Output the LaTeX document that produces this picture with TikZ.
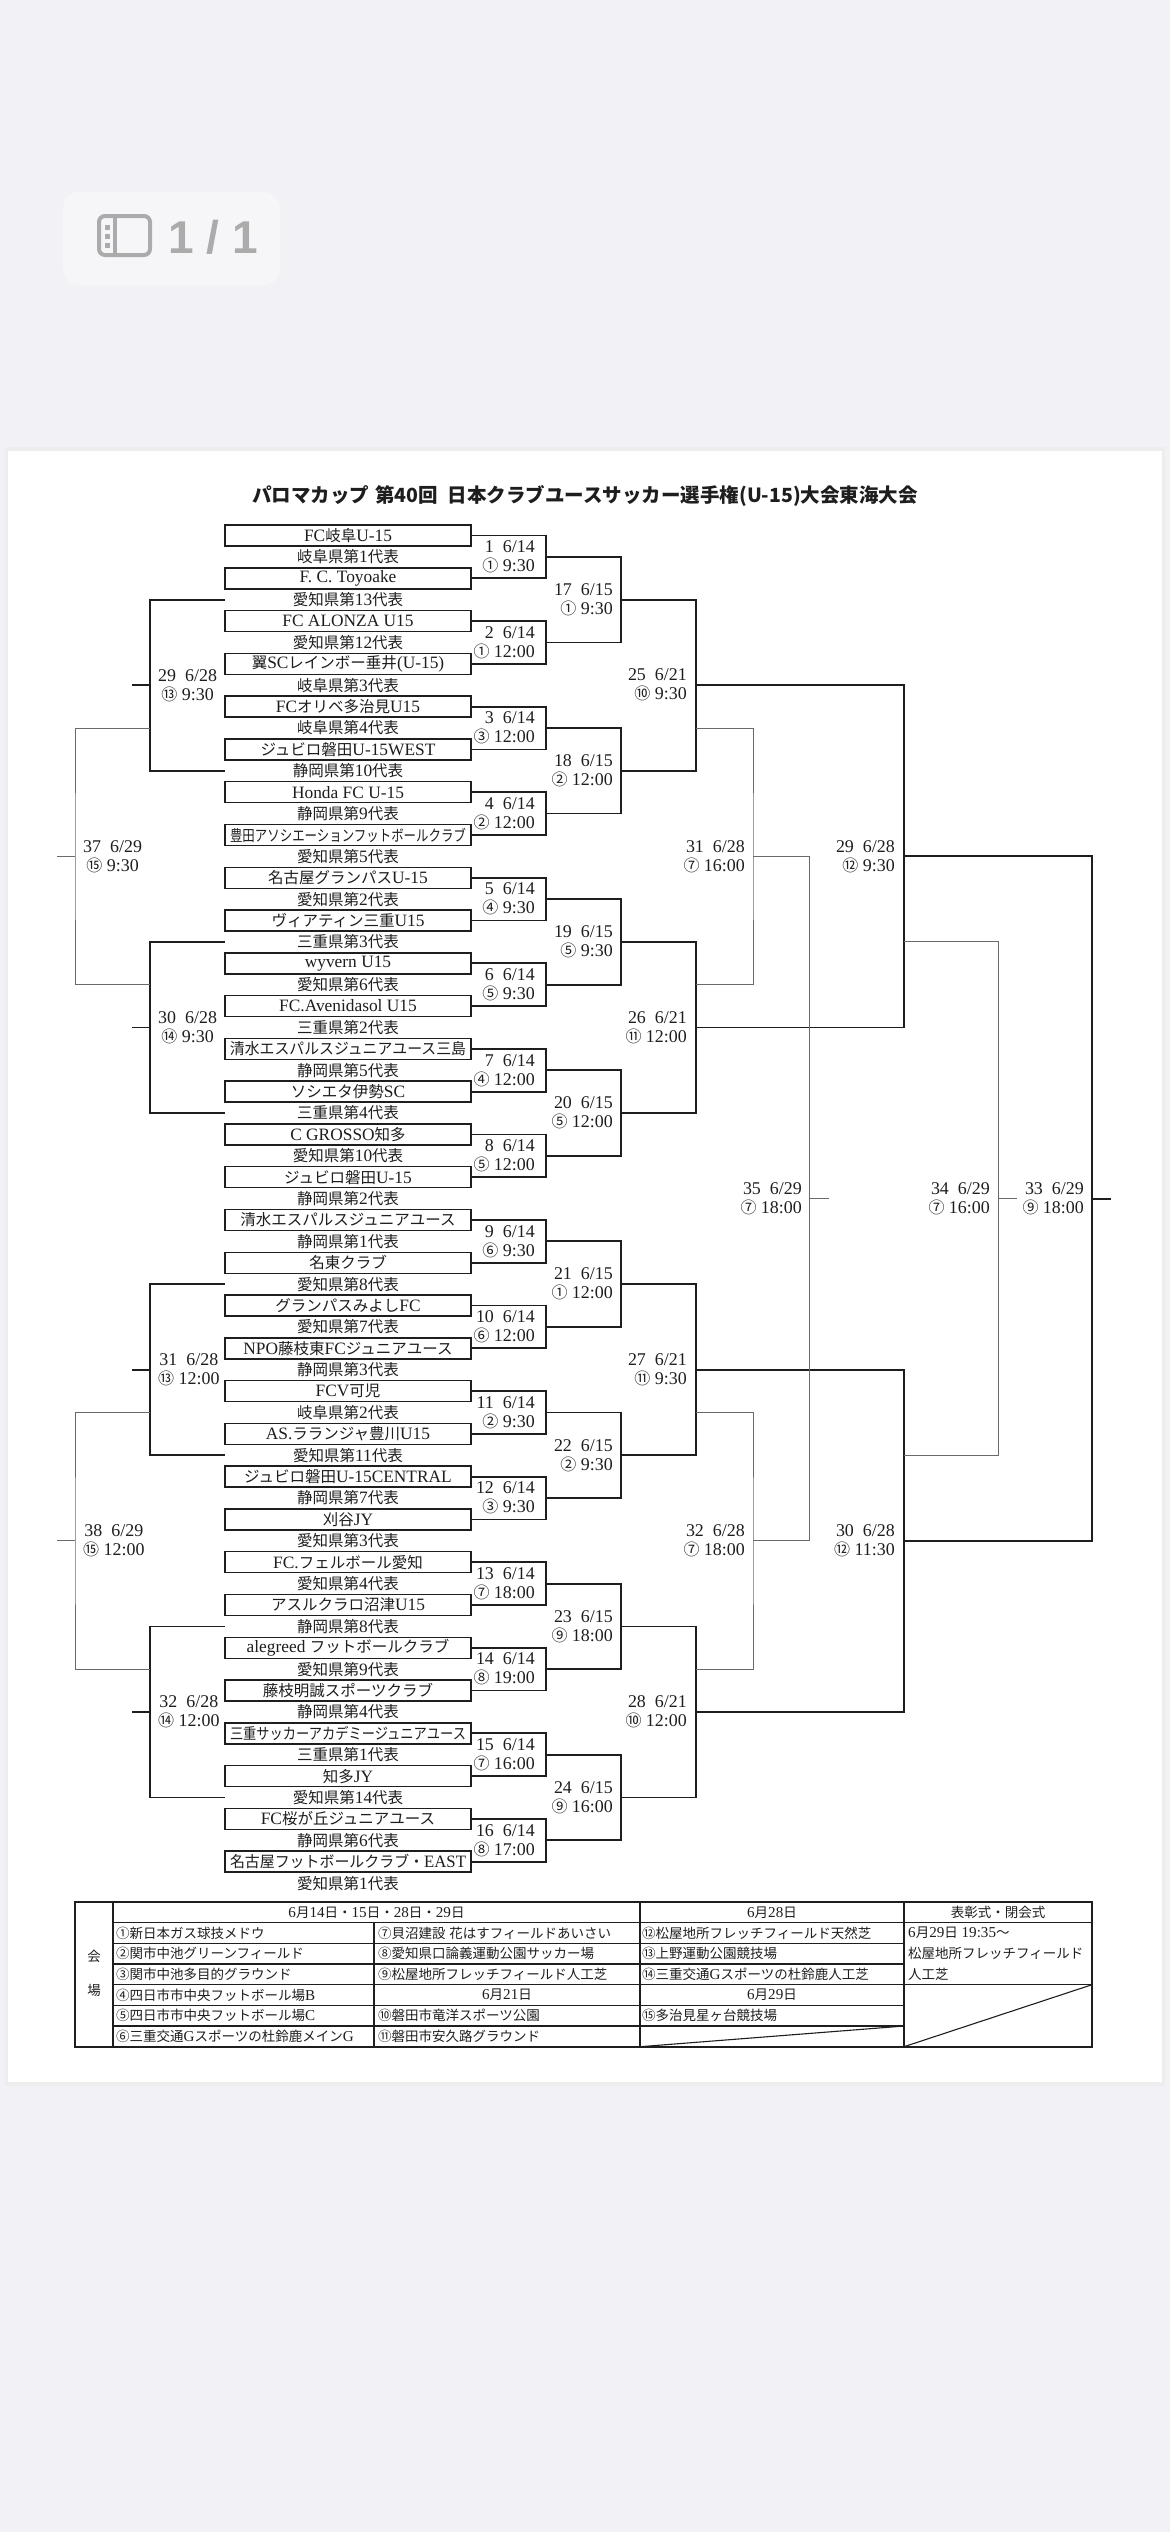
\documentclass[tikz,border=0pt]{standalone}
\usepackage{fontspec}
\usepackage{graphicx}
\setmainfont{Liberation Serif}[Scale=1.12]
\newfontfamily\latinfont{Liberation Serif}[Scale=1.12]
\newfontfamily\jafont{Noto Sans CJK JP}
\newfontfamily\uifont{Liberation Sans}

\definecolor{ink}{HTML}{1E1E1E}
\definecolor{thin}{HTML}{6A6A6A}
\definecolor{screen}{HTML}{F1F1F6}
\definecolor{pill}{HTML}{F6F6F9}
\definecolor{uigray}{HTML}{ABABAB}

\newcommand\teamfont{\fontsize{15.5}{18}\selectfont}
\newcommand\matchfont{\fontsize{16}{19}\selectfont}
\newcommand\tablefont{\fontsize{13.5}{16}\selectfont}
\newcommand\fitname[1]{\sbox0{#1}\ifdim\wd0>236pt\resizebox{236pt}{\height}{\usebox0}\else\usebox0\fi}

% Japanese runs in Noto Sans CJK, Latin runs in Liberation Serif
\newXeTeXintercharclass\jaclass
\newcount\jacnt
\newcommand\jarange[2]{\jacnt=#1\relax
  \loop\XeTeXcharclass\jacnt=\jaclass\relax
  \ifnum\jacnt<#2\relax\advance\jacnt by 1\relax\repeat}
\jarange{"2460}{"24FF}
\jarange{"3000}{"30FF}
\jarange{"4E00}{"9FFF}
\jarange{"FF00}{"FFEF}
\XeTeXinterchartoks 0 \jaclass = {\jafont}
\XeTeXinterchartoks 4095 \jaclass = {\jafont}
\XeTeXinterchartoks \jaclass 0 = {\latinfont}
\XeTeXinterchartoks \jaclass 4095 = {\latinfont}
\XeTeXinterchartoks 4095 0 = {\latinfont}
\XeTeXinterchartokenstate=1

\begin{document}
\begin{tikzpicture}[x=1pt, y=-1pt,
  team/.style={draw=ink, line width=1.5pt, minimum width=246pt, minimum height=21pt, inner sep=0pt, font=\teamfont, text=ink},
  rep/.style={minimum width=246pt, minimum height=21pt, inner sep=0pt, font=\teamfont, text=ink},
  win/.style={draw=ink, line width=1.8pt},
  lose/.style={draw=thin, line width=1pt},
  mlabel/.style={anchor=east, align=right, inner sep=0pt, font=\matchfont, text=ink},
  llabel/.style={anchor=west, align=center, inner sep=0pt, font=\matchfont, text=ink},
  cell/.style={anchor=west, inner sep=0pt, font=\tablefont, text=ink},
  head/.style={inner sep=0pt, font=\tablefont, text=ink}]
	\fill[screen] (0,0) rectangle (1170,2532);
	% page counter
	\fill[pill, rounded corners=16pt] (63,192) rectangle (280,285);
	\draw[uigray, line width=4pt, rounded corners=6pt] (99,216) rectangle (150,255);
	\draw[uigray, line width=4pt] (115,216) -- (115,255);
	\foreach \d in {227,236,245}
		\fill[uigray] (104.5,\d-2.5) rectangle (109.5,\d+2.5);
	\node[anchor=base west, inner sep=0pt, text=uigray, font={\XeTeXinterchartokenstate=0 \uifont\bfseries\fontsize{46}{48}\selectfont}] (pageno) at (168,253) {1 / 1};
	% sheet
	\fill[black!7] (5,447) rectangle (1165,2086);
	\fill[white] (8,451) rectangle (1162,2082);
	\node[inner sep=0pt, text=ink, font={\XeTeXinterchartokenstate=0 \jafont\bfseries\fontsize{19.5}{22}\selectfont}] (title) at (585,496) {パロマカップ\hspace{6pt}第40回\hspace{10pt}日本クラブユースサッカー選手権(U-15)大会東海大会};

	\begin{scope}[shift={(0,535.5)}, y=-21.39pt]
	\foreach \name [count=\k from 0] in {FC岐阜U-15, F. C. Toyoake, FC ALONZA U15, 翼SCレインボー垂井(U-15), FCオリベ多治見U15, ジュビロ磐田U-15WEST, Honda FC U-15, 豊田アソシエーションフットボールクラブ, 名古屋グランパスU-15, ヴィアティン三重U15, wyvern U15, FC.Avenidasol U15, 清水エスパルスジュニアユース三島, ソシエタ伊勢SC, C GROSSO知多, ジュビロ磐田U-15, 清水エスパルスジュニアユース, 名東クラブ, グランパスみよしFC, NPO藤枝東FCジュニアユース, FCV可児, AS.ラランジャ豊川U15, ジュビロ磐田U-15CENTRAL, 刈谷JY, FC.フェルボール愛知, アスルクラロ沼津U15, alegreed フットボールクラブ, 藤枝明誠スポーツクラブ, 三重サッカーアカデミージュニアユース, 知多JY, FC桜が丘ジュニアユース, 名古屋フットボールクラブ・EAST}
		\node[team] (team\k) at (348,2*\k) {\fitname{\name}};
	\foreach \name [count=\k from 0] in {岐阜県第1代表, 愛知県第13代表, 愛知県第12代表, 岐阜県第3代表, 岐阜県第4代表, 静岡県第10代表, 静岡県第9代表, 愛知県第5代表, 愛知県第2代表, 三重県第3代表, 愛知県第6代表, 三重県第2代表, 静岡県第5代表, 三重県第4代表, 愛知県第10代表, 静岡県第2代表, 静岡県第1代表, 愛知県第8代表, 愛知県第7代表, 静岡県第3代表, 岐阜県第2代表, 愛知県第11代表, 静岡県第7代表, 愛知県第3代表, 愛知県第4代表, 静岡県第8代表, 愛知県第9代表, 静岡県第4代表, 三重県第1代表, 愛知県第14代表, 静岡県第6代表, 愛知県第1代表}
		\node[rep] (rep\k) at (348,2*\k+1) {\name};

	% 6/14
	\foreach \v [count=\i] in {① 9:30, ① 12:00, ③ 12:00, ② 12:00, ④ 9:30, ⑤ 9:30, ④ 12:00, ⑤ 12:00, ⑥ 9:30, ⑥ 12:00, ② 9:30, ③ 9:30, ⑦ 18:00, ⑧ 19:00, ⑦ 16:00, ⑧ 17:00}{
		\pgfmathtruncatemacro\a{2*\i-2}
		\pgfmathtruncatemacro\b{2*\i-1}
		\coordinate (ra\i) at (546,4*\i-3);
		\draw[win] (team\a.east) -| (ra\i) |- (team\b.east);
		\node[mlabel] at ([xshift=-11pt]ra\i) {\i\hspace{9pt}6/14\\\v};
	}
	% 6/15
	\foreach \v [count=\j] in {① 9:30, ② 12:00, ⑤ 9:30, ⑤ 12:00, ① 12:00, ② 9:30, ⑨ 18:00, ⑨ 16:00}{
		\pgfmathtruncatemacro\a{2*\j-1}
		\pgfmathtruncatemacro\b{2*\j}
		\pgfmathtruncatemacro\n{16+\j}
		\coordinate (rb\j) at (621,8*\j-5);
		\draw[win] (ra\a) -| (rb\j) |- (ra\b);
		\node[mlabel] at ([xshift=-8pt]rb\j) {\n\hspace{9pt}6/15\\\v};
	}
	% 6/21
	\foreach \v [count=\q] in {⑩ 9:30, ⑪ 12:00, ⑪ 9:30, ⑩ 12:00}{
		\pgfmathtruncatemacro\a{2*\q-1}
		\pgfmathtruncatemacro\b{2*\q}
		\pgfmathtruncatemacro\n{24+\q}
		\pgfmathtruncatemacro\d{16*\q-7-4*mod(\q+1,2)}
		\coordinate (rc\q) at (696,16*\q-9);
		\coordinate (rcx\q) at (696,\d);
		\draw[win] (rb\a) -| (rc\q) |- (rb\b);
		\node[mlabel] at ([xshift=-9pt]rc\q) {\n\hspace{9pt}6/21\\\v};
	}
	% 6/28
	\foreach \v [count=\h] in {⑫ 9:30, ⑫ 11:30}{
		\pgfmathtruncatemacro\a{2*\h-1}
		\pgfmathtruncatemacro\b{2*\h}
		\pgfmathtruncatemacro\n{28+\h}
		\pgfmathtruncatemacro\d{32*\h-13-8*mod(\h+1,2)}
		\coordinate (rd\h) at (904,32*\h-17);
		\coordinate (rdx\h) at (904,\d);
		\draw[win] (rc\a) -| (rd\h) |- (rc\b);
		\node[mlabel] at ([xshift=-9pt]rd\h) {\n\hspace{9pt}6/28\\\v};
	}
	\coordinate (fin) at (1092,31);
	\coordinate (finend) at (1111,31);
	\draw[win] (rd1) -| (fin) |- (rd2);
	\draw[win] (fin) -- (finend);
	\node[mlabel] at ([xshift=-8pt]fin) {33\hspace{9pt}6/29\\⑨ 18:00};

	% losers on the right
	\coordinate (cq1) at (753,15);
	\coordinate (cq2) at (753,47);
	\draw[lose] (rcx1) -| (cq1) |- (rcx2);
	\draw[lose] (rcx3) -| (cq2) |- (rcx4);
	\node[mlabel] at ([xshift=-8pt]cq1) {31\hspace{9pt}6/28\\⑦ 16:00};
	\node[mlabel] at ([xshift=-8pt]cq2) {32\hspace{9pt}6/28\\⑦ 18:00};
	\coordinate (cs) at (809,31);
	\coordinate (csend) at (829,31);
	\draw[lose] (cq1) -| (cs) |- (cq2);
	\draw[lose] (cs) -- (csend);
	\node[mlabel] at ([xshift=-7pt]cs) {35\hspace{9pt}6/29\\⑦ 18:00};
	\coordinate (ct) at (998,31);
	\coordinate (ctend) at (1017,31);
	\draw[lose] (rdx1) -| (ct) |- (rdx2);
	\draw[lose] (ct) -- (ctend);
	\node[mlabel] at ([xshift=-8pt]ct) {34\hspace{9pt}6/29\\⑦ 16:00};

	% left side
	\foreach \v [count=\h] in {⑬ 9:30, ⑭ 9:30, ⑬ 12:00, ⑭ 12:00}{
		\pgfmathtruncatemacro\a{8*\h-7}
		\pgfmathtruncatemacro\b{8*\h-3}
		\pgfmathtruncatemacro\n{28+\h}
		\pgfmathtruncatemacro\d{16*\h-7-4*mod(\h+1,2)}
		\coordinate (lm\h) at (150,16*\h-9);
		\coordinate (lmend\h) at (132,16*\h-9);
		\coordinate (lmx\h) at (150,\d);
		\draw[win] (rep\a.west) -| (lm\h) |- (rep\b.west);
		\draw[win] (lm\h) -- (lmend\h);
		\node[llabel] at ([xshift=8pt]lm\h) {\n\hspace{9pt}6/28\\\v};
	}
	\coordinate (lf1) at (75,15);
	\coordinate (lf2) at (75,47);
	\coordinate (lfend1) at (57,15);
	\coordinate (lfend2) at (57,47);
	\draw[lose] (lmx1) -| (lf1) |- (lmx2);
	\draw[lose] (lmx3) -| (lf2) |- (lmx4);
	\draw[lose] (lf1) -- (lfend1);
	\draw[lose] (lf2) -- (lfend2);
	\node[llabel] at ([xshift=8pt]lf1) {37\hspace{9pt}6/29\\⑮ 9:30};
	\node[llabel] at ([xshift=8pt]lf2) {38\hspace{9pt}6/29\\⑮ 12:00};
	\end{scope}

	% venues
	\begin{scope}[shift={(0,1902)}, y=-20.67pt]
	\draw[ink, line width=1.1pt] (113,1) -- (1092,1) (113,4) -- (1092,4);
	\foreach \r in {2,3,5,6}
		\draw[ink, line width=1.1pt] (113,\r) -- (904,\r);
	\draw[ink, line width=1.1pt] (113,0) -- (113,7) (374,1) -- (374,7) (640,0) -- (640,7) (904,0) -- (904,7);
	\draw[ink, line width=1.1pt] (640,7) -- (904,6) (904,7) -- (1092,4);
	\draw[ink, line width=2pt] (75,0) rectangle (1092,7);
	\node[head] (kai) at (94,2.65) {会};
	\node[head] (jo) at (94,4.3) {場};
	\node[head] (days) at (376.5,0.5) {6月14日・15日・28日・29日};
	\node[head] (day28) at (772,0.5) {6月28日};
	\node[head] (award) at (998,0.5) {表彰式・閉会式};
	\node[head] (day21) at (507,4.5) {6月21日};
	\node[head] (day29) at (772,4.5) {6月29日};
	\foreach \t [count=\k] in {①新日本ガス球技メドウ, ②関市中池グリーンフィールド, ③関市中池多目的グラウンド, ④四日市市中央フットボール場B, ⑤四日市市中央フットボール場C, ⑥三重交通Gスポーツの杜鈴鹿メインG}
		\node[cell] (va\k) at (116,\k+0.5) {\t};
	\foreach \r/\t in {1/⑦貝沼建設 花はすフィールドあいさい, 2/⑧愛知県口論義運動公園サッカー場, 3/⑨松屋地所フレッチフィールド人工芝, 5/⑩磐田市竜洋スポーツ公園, 6/⑪磐田市安久路グラウンド}
		\node[cell] (vb\r) at (378,\r+0.5) {\t};
	\foreach \r/\t in {1/⑫松屋地所フレッチフィールド天然芝, 2/⑬上野運動公園競技場, 3/⑭三重交通Gスポーツの杜鈴鹿人工芝, 5/⑮多治見星ヶ台競技場}
		\node[cell] (vc\r) at (642,\r+0.5) {\t};
	\foreach \r/\t in {1/6月29日 19:35～, 2/松屋地所フレッチフィールド, 3/人工芝}
		\node[cell] (vd\r) at (908,\r+0.5) {\t};
	\end{scope}
\end{tikzpicture}
\end{document}
